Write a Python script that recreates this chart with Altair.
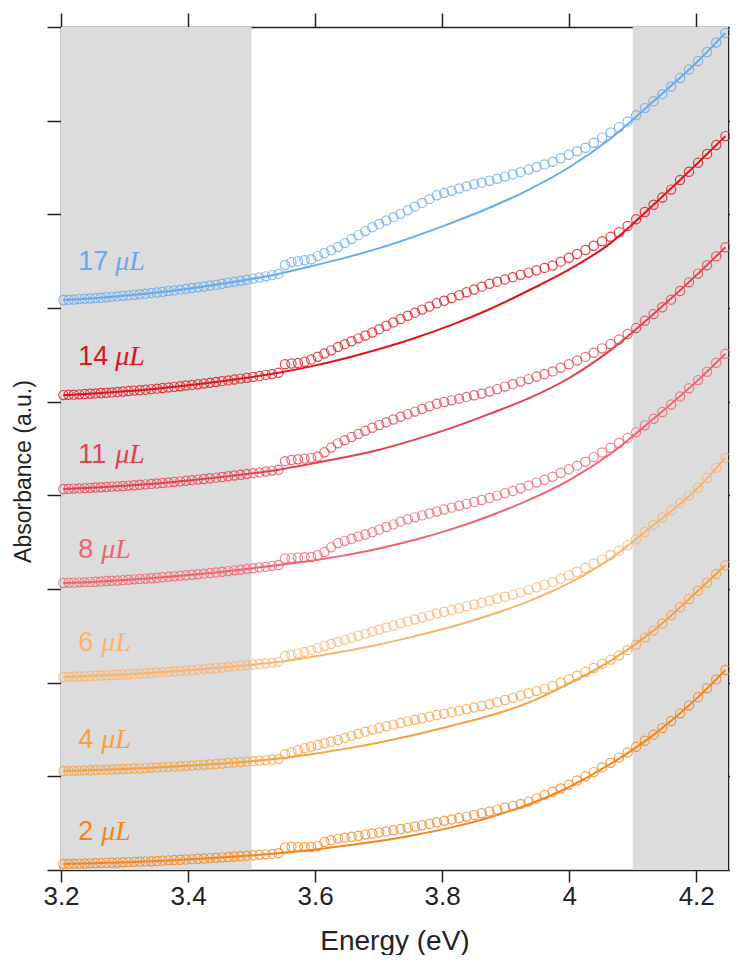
import altair as alt
import pandas as pd

# photon energies of the measured points (eV), ascending
energy = [
    3.2037, 3.2120, 3.2204, 3.2287, 3.2372, 3.2457, 3.2542, 3.2627, 3.2714, 3.2800,
    3.2887, 3.2975, 3.3063, 3.3151, 3.3240, 3.3329, 3.3419, 3.3509, 3.3600, 3.3692,
    3.3783, 3.3876, 3.3968, 3.4062, 3.4155, 3.4250, 3.4345, 3.4440, 3.4536, 3.4632,
    3.4729, 3.4827, 3.4925, 3.5024, 3.5123, 3.5223, 3.5323, 3.5424,
    3.5526, 3.5628, 3.5730, 3.5834, 3.5937, 3.6042, 3.6147, 3.6253, 3.6359, 3.6466,
    3.6573, 3.6682, 3.6790, 3.6900, 3.7010, 3.7121, 3.7232, 3.7345, 3.7458, 3.7571,
    3.7685, 3.7800, 3.7916, 3.8032, 3.8149, 3.8267, 3.8385, 3.8504, 3.8624, 3.8745,
    3.8866, 3.8989, 3.9112, 3.9235, 3.9360, 3.9485, 3.9611, 3.9739, 3.9866, 3.9995,
    4.0124, 4.0255, 4.0386, 4.0518, 4.0651, 4.0784, 4.0919, 4.1054, 4.1191, 4.1328,
    4.1466, 4.1605, 4.1746, 4.1887, 4.2029, 4.2171, 4.2315, 4.2460,
]

# measured absorbance (without vertical offset)
abs_2 = [
    0.064, 0.065, 0.066, 0.068, 0.069, 0.071, 0.073, 0.074, 0.076, 0.078,
    0.080, 0.082, 0.084, 0.087, 0.089, 0.092, 0.094, 0.097, 0.100, 0.103,
    0.106, 0.109, 0.113, 0.116, 0.120, 0.123, 0.127, 0.131, 0.135, 0.139,
    0.144, 0.148, 0.153, 0.157, 0.162, 0.167, 0.172, 0.178,
    0.240, 0.248, 0.247, 0.244, 0.246, 0.255, 0.300, 0.318, 0.335, 0.345,
    0.355, 0.365, 0.378, 0.390, 0.400, 0.412, 0.425, 0.438, 0.450, 0.465,
    0.478, 0.492, 0.510, 0.525, 0.540, 0.555, 0.570, 0.588, 0.605, 0.625,
    0.645, 0.665, 0.685, 0.705, 0.730, 0.762, 0.800, 0.835, 0.870, 0.910,
    0.955, 1.000, 1.045, 1.095, 1.145, 1.200, 1.255, 1.315, 1.380, 1.445,
    1.515, 1.590, 1.670, 1.755, 1.845, 1.940, 2.035, 2.135,
]
abs_4 = [
    0.057, 0.058, 0.060, 0.061, 0.063, 0.065, 0.067, 0.069, 0.071, 0.073,
    0.075, 0.078, 0.080, 0.083, 0.085, 0.088, 0.091, 0.094, 0.098, 0.101,
    0.104, 0.108, 0.112, 0.116, 0.120, 0.124, 0.128, 0.132, 0.137, 0.142,
    0.147, 0.152, 0.157, 0.162, 0.168, 0.173, 0.179, 0.185,
    0.235, 0.257, 0.279, 0.301, 0.318, 0.335, 0.353, 0.370, 0.388, 0.410,
    0.432, 0.454, 0.477, 0.499, 0.516, 0.534, 0.552, 0.570, 0.587, 0.604,
    0.620, 0.637, 0.654, 0.669, 0.685, 0.701, 0.718, 0.734, 0.750, 0.769,
    0.792, 0.815, 0.838, 0.863, 0.887, 0.910, 0.934, 0.963, 1.000, 1.038,
    1.075, 1.113, 1.156, 1.201, 1.246, 1.292, 1.347, 1.406, 1.481, 1.556,
    1.631, 1.719, 1.806, 1.893, 1.981, 2.070, 2.161, 2.253,
]
abs_6 = [
    0.061, 0.063, 0.065, 0.067, 0.069, 0.071, 0.073, 0.076, 0.078, 0.081,
    0.084, 0.087, 0.090, 0.093, 0.097, 0.100, 0.104, 0.108, 0.112, 0.116,
    0.121, 0.125, 0.130, 0.135, 0.140, 0.145, 0.151, 0.156, 0.162, 0.168,
    0.174, 0.180, 0.187, 0.193, 0.200, 0.207, 0.214, 0.222,
    0.285, 0.296, 0.312, 0.327, 0.347, 0.369, 0.391, 0.413, 0.435, 0.457,
    0.479, 0.501, 0.524, 0.546, 0.567, 0.589, 0.611, 0.633, 0.654, 0.675,
    0.696, 0.717, 0.738, 0.757, 0.776, 0.795, 0.815, 0.834, 0.854, 0.875,
    0.896, 0.918, 0.940, 0.964, 0.991, 1.018, 1.045, 1.073, 1.110, 1.147,
    1.184, 1.224, 1.269, 1.315, 1.361, 1.409, 1.466, 1.530, 1.608, 1.684,
    1.763, 1.840, 1.919, 1.997, 2.081, 2.187, 2.294, 2.402,
]
abs_8 = [
    0.064, 0.066, 0.068, 0.071, 0.073, 0.076, 0.078, 0.081, 0.085, 0.088,
    0.091, 0.095, 0.099, 0.103, 0.107, 0.111, 0.115, 0.120, 0.125, 0.130,
    0.135, 0.141, 0.146, 0.152, 0.158, 0.164, 0.171, 0.177, 0.184, 0.191,
    0.199, 0.206, 0.214, 0.222, 0.230, 0.238, 0.247, 0.256,
    0.325, 0.330, 0.336, 0.339, 0.342, 0.360, 0.395, 0.445, 0.491, 0.514,
    0.537, 0.560, 0.582, 0.606, 0.634, 0.662, 0.690, 0.719, 0.744, 0.765,
    0.786, 0.807, 0.828, 0.848, 0.869, 0.889, 0.909, 0.930, 0.950, 0.972,
    0.997, 1.022, 1.047, 1.076, 1.106, 1.136, 1.167, 1.198, 1.238, 1.278,
    1.317, 1.359, 1.408, 1.458, 1.508, 1.559, 1.613, 1.675, 1.747, 1.818,
    1.889, 1.969, 2.056, 2.143, 2.230, 2.319, 2.415, 2.511,
]
abs_11 = [
    0.067, 0.069, 0.072, 0.074, 0.077, 0.080, 0.083, 0.086, 0.089, 0.093,
    0.096, 0.100, 0.104, 0.108, 0.113, 0.117, 0.122, 0.127, 0.132, 0.138,
    0.144, 0.149, 0.155, 0.162, 0.168, 0.175, 0.182, 0.189, 0.196, 0.204,
    0.212, 0.220, 0.228, 0.237, 0.245, 0.254, 0.264, 0.274,
    0.365, 0.378, 0.385, 0.392, 0.400, 0.415, 0.460, 0.510, 0.555, 0.588,
    0.622, 0.655, 0.689, 0.722, 0.751, 0.780, 0.809, 0.839, 0.867, 0.894,
    0.922, 0.950, 0.978, 0.996, 1.014, 1.032, 1.051, 1.069, 1.087, 1.108,
    1.134, 1.161, 1.187, 1.214, 1.241, 1.268, 1.295, 1.323, 1.362, 1.400,
    1.439, 1.478, 1.523, 1.569, 1.615, 1.663, 1.723, 1.786, 1.863, 1.935,
    2.008, 2.089, 2.181, 2.274, 2.367, 2.456, 2.553, 2.649,
]
abs_14 = [
    0.070, 0.073, 0.075, 0.078, 0.081, 0.084, 0.088, 0.092, 0.095, 0.099,
    0.104, 0.108, 0.113, 0.118, 0.123, 0.128, 0.134, 0.139, 0.145, 0.152,
    0.158, 0.165, 0.172, 0.179, 0.186, 0.194, 0.202, 0.210, 0.219, 0.227,
    0.236, 0.246, 0.255, 0.265, 0.275, 0.286, 0.296, 0.308,
    0.400, 0.408, 0.412, 0.426, 0.451, 0.480, 0.514, 0.548, 0.583, 0.614,
    0.645, 0.676, 0.707, 0.739, 0.774, 0.810, 0.846, 0.882, 0.917, 0.950,
    0.983, 1.016, 1.050, 1.077, 1.107, 1.137, 1.168, 1.198, 1.228, 1.258,
    1.281, 1.305, 1.329, 1.354, 1.378, 1.403, 1.428, 1.454, 1.495, 1.536,
    1.577, 1.619, 1.665, 1.712, 1.760, 1.808, 1.875, 1.947, 2.025, 2.102,
    2.180, 2.264, 2.366, 2.455, 2.550, 2.645, 2.740, 2.835,
]
abs_17 = [
    0.085, 0.088, 0.091, 0.095, 0.098, 0.102, 0.106, 0.110, 0.115, 0.119,
    0.124, 0.130, 0.135, 0.141, 0.147, 0.153, 0.160, 0.166, 0.173, 0.181,
    0.188, 0.196, 0.204, 0.213, 0.222, 0.230, 0.240, 0.249, 0.259, 0.270,
    0.280, 0.291, 0.302, 0.314, 0.326, 0.338, 0.351, 0.364,
    0.459, 0.490, 0.500, 0.510, 0.521, 0.554, 0.585, 0.617, 0.651, 0.693,
    0.736, 0.778, 0.821, 0.863, 0.898, 0.934, 0.970, 1.005, 1.043, 1.082,
    1.122, 1.162, 1.203, 1.227, 1.251, 1.276, 1.301, 1.321, 1.338, 1.358,
    1.380, 1.403, 1.426, 1.450, 1.478, 1.505, 1.533, 1.562, 1.599, 1.636,
    1.673, 1.711, 1.764, 1.819, 1.874, 1.931, 1.992, 2.059, 2.134, 2.208,
    2.283, 2.365, 2.455, 2.546, 2.637, 2.733, 2.835, 2.937,
]

# fitted background curves
fit_energy = [3.2037, 3.2204, 3.2627, 3.3063, 3.3509, 3.3968, 3.4440, 3.4925, 3.5424,
              3.5937, 3.6466, 3.7010, 3.7571, 3.8149, 3.8745, 3.9360, 3.9995, 4.0651,
              4.1328, 4.2029, 4.2460]
fit_2 = [0.064, 0.066, 0.074, 0.084, 0.097, 0.113, 0.131, 0.153, 0.178,
         0.214, 0.258, 0.310, 0.374, 0.455, 0.561, 0.699, 0.885, 1.132, 1.443, 1.845, 2.135]
fit_4 = [0.057, 0.060, 0.069, 0.080, 0.094, 0.112, 0.132, 0.157, 0.190,
         0.236, 0.293, 0.362, 0.444, 0.540, 0.646, 0.787, 0.990, 1.232, 1.556, 1.981, 2.253]
fit_6 = [0.061, 0.065, 0.076, 0.090, 0.108, 0.130, 0.156, 0.187, 0.222,
         0.274, 0.335, 0.408, 0.497, 0.597, 0.719, 0.868, 1.062, 1.325, 1.684, 2.081, 2.402]
fit_8 = [0.064, 0.068, 0.081, 0.099, 0.120, 0.146, 0.177, 0.214, 0.256,
         0.302, 0.359, 0.432, 0.525, 0.639, 0.780, 0.949, 1.160, 1.444, 1.818, 2.230, 2.511]
fit_11 = [0.067, 0.072, 0.086, 0.104, 0.127, 0.155, 0.189, 0.228, 0.274,
          0.336, 0.406, 0.487, 0.595, 0.720, 0.870, 1.035, 1.250, 1.550, 1.935, 2.367, 2.649]
fit_14 = [0.070, 0.075, 0.092, 0.113, 0.139, 0.172, 0.210, 0.255, 0.308,
          0.377, 0.461, 0.562, 0.680, 0.820, 0.987, 1.187, 1.409, 1.693, 2.102, 2.550, 2.835]
fit_17 = [0.085, 0.091, 0.110, 0.135, 0.166, 0.204, 0.249, 0.302, 0.364,
          0.446, 0.535, 0.639, 0.765, 0.909, 1.070, 1.262, 1.500, 1.810, 2.208, 2.637, 2.937]

volumes = ["2", "4", "6", "8", "11", "14", "17"]
offsets = [0, 1, 2, 3, 4, 5, 6]
label_y = [0.41, 1.39, 2.42, 3.42, 4.43, 5.48, 6.49]
label_x = 3.227
colors = ["#F5841A", "#F5A142", "#F9B46E", "#F0626E", "#E5404F", "#E3121B", "#66AAEE"]
band_start = [3.2, 4.1]
band_end = [3.5, 4.25]
x_ticks = [3.2, 3.4, 3.6, 3.8, 4.0, 4.2]
y_ticks = [0, 1, 2, 3, 4, 5, 6, 7, 8, 9]

data_sets = [abs_2, abs_4, abs_6, abs_8, abs_11, abs_14, abs_17]
fit_sets = [fit_2, fit_4, fit_6, fit_8, fit_11, fit_14, fit_17]

rows = []
for name, off, vals in zip(volumes, offsets, data_sets):
    for e, v in zip(energy, vals):
        rows.append({"energy": e, "absorbance": v + off, "series": name})
data_df = pd.DataFrame(rows)

frows = []
for name, off, vals in zip(volumes, offsets, fit_sets):
    for e, v in zip(fit_energy, vals):
        frows.append({"energy": e, "absorbance": v + off, "series": name})
fit_df = pd.DataFrame(frows)

label_df = pd.DataFrame({"num": volumes, "x": [label_x] * len(volumes), "y": label_y, "series": volumes})
band_df = pd.DataFrame({"start": band_start, "end": band_end, "lo": [0, 0], "hi": [9, 9]})

W, H = 667, 843
AX = "#222222"
FONT = "Liberation Sans"
xs = alt.Scale(domain=[3.2, 4.25], nice=False, zero=False)
ys = alt.Scale(domain=[0, 9], nice=False, zero=False)
cs = alt.Scale(domain=volumes, range=colors)

bottom_axis = alt.Axis(orient="bottom", values=x_ticks, format="~g", title="Energy (eV)",
                       grid=False, tickSize=12, tickWidth=1.5, tickColor=AX,
                       domainColor=AX, domainWidth=1.5, labelFont=FONT, labelFontSize=26,
                       labelColor=AX, labelPadding=1, labelFlush=False,
                       titleFont=FONT, titleFontSize=28, titleFontWeight="normal",
                       titleColor=AX, titlePadding=18)
top_axis = alt.Axis(orient="top", values=x_ticks, labels=False, title=None, grid=False,
                    tickSize=14, tickWidth=1.5, tickColor=AX, domainColor=AX, domainWidth=1.5)
left_axis = alt.Axis(orient="left", values=y_ticks, labels=False, title="Absorbance (a.u.)",
                     grid=False, tickSize=14, tickWidth=1.5, tickColor=AX, domainColor=AX,
                     domainWidth=1.5, titleFont=FONT, titleFontSize=23, titleFontWeight="normal",
                     titleColor=AX, titlePadding=11, titleY=444)
right_axis = alt.Axis(orient="right", values=y_ticks, labels=False, title=None, grid=False,
                      tickSize=12, tickWidth=1.5, tickColor=AX, domainColor=AX, domainWidth=1.5)

bands = alt.Chart(band_df).mark_rect(color="#DCDCDC").encode(
    x=alt.X("start:Q", scale=xs, axis=top_axis),
    x2="end:Q",
    y=alt.Y("lo:Q", scale=ys, axis=right_axis),
    y2="hi:Q",
)

points = alt.Chart(data_df).mark_point(shape="circle", filled=False, size=85,
                                       strokeWidth=1.2, opacity=0.8).encode(
    x=alt.X("energy:Q", scale=xs, axis=None),
    y=alt.Y("absorbance:Q", scale=ys, axis=None),
    color=alt.Color("series:N", scale=cs, legend=None),
)

lines = alt.Chart(fit_df).mark_line(strokeWidth=2, interpolate="monotone").encode(
    x=alt.X("energy:Q", scale=xs, axis=bottom_axis),
    y=alt.Y("absorbance:Q", scale=ys, axis=left_axis),
    color=alt.Color("series:N", scale=cs, legend=None),
)

enc = dict(
    x=alt.X("x:Q", scale=xs, axis=None),
    y=alt.Y("y:Q", scale=ys, axis=None),
    color=alt.Color("series:N", scale=cs, legend=None),
)
num_text = alt.Chart(label_df).mark_text(align="left", baseline="middle", font=FONT,
                                         fontSize=27).encode(text="num:N", **enc)
unit_two = alt.Chart(label_df).transform_filter("length(datum.num) == 2").mark_text(
    align="left", baseline="middle", font="Liberation Serif", fontStyle="italic",
    fontSize=28, dx=37, text="μL").encode(**enc)
unit_one = alt.Chart(label_df).transform_filter("length(datum.num) == 1").mark_text(
    align="left", baseline="middle", font="Liberation Serif", fontStyle="italic",
    fontSize=28, dx=23, text="μL").encode(**enc)

chart = alt.layer(bands, points, lines, num_text, unit_two, unit_one).resolve_axis(
    x="independent", y="independent"
).properties(
    width=W, height=H,
    autosize=alt.AutoSizeParams(type="none"),
    padding={"left": 53, "top": 19, "right": 2, "bottom": 85},
).configure_view(strokeWidth=0)

chart.save("out.html", embed_options={"renderer": "svg", "actions": False})
